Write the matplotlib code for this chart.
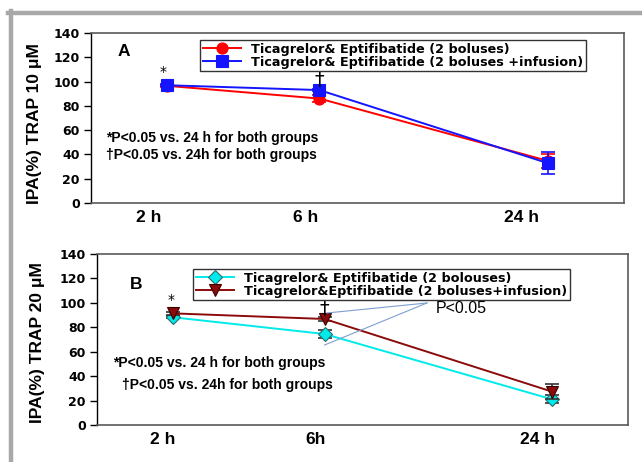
import matplotlib
matplotlib.use('Agg')
import matplotlib.pyplot as plt
from matplotlib.lines import Line2D

# Time points and their positions on the category axis
times = ['2 h', '6 h', '24 h']
times_b = ['2 h', '6h', '24 h']
x_pos = [1, 3, 6]

# Panel A: TRAP 10 uM
a_boluses = [96.5, 86.0, 34.7]
a_boluses_err = [1.0, 3.0, 6.0]
a_infusion = [97.0, 93.0, 32.8]
a_infusion_err = [1.0, 1.0, 9.0]

# Panel B: TRAP 20 uM
b_boluses = [88.2, 74.5, 21.0]
b_boluses_err = [1.0, 3.0, 3.3]
b_infusion = [91.4, 86.8, 27.3]
b_infusion_err = [1.0, 1.5, 6.3]

wide = 'DejaVu Sans'
arial = 'Liberation Sans'

fig = plt.figure(figsize=(6.42, 4.62), dpi=100)
W, H = 642, 462

def box(x0, y0, x1, y1):
    return [x0 / W, 1 - y1 / H, (x1 - x0) / W, (y1 - y0) / H]

axA = fig.add_axes(box(91, 33, 624, 203))
axB = fig.add_axes(box(97, 254, 628, 425))

# gray frame of the original figure
fig.add_artist(Line2D([8 / W, 1], [1 - 12.5 / H] * 2, color='#a8a8a8', lw=3.2, transform=fig.transFigure))
fig.add_artist(Line2D([11 / W] * 2, [0, 1 - 11 / H], color='#a8a8a8', lw=3.2, transform=fig.transFigure))


def style_axes(ax, ylabel, tick_labels, tick_pos, label_xy):
    ax.set_xlim(0, 7)
    ax.set_ylim(0, 140)
    ax.set_yticks(range(0, 141, 20))
    ax.set_xticks(tick_pos)
    ax.set_xticklabels(tick_labels, fontfamily=arial, fontweight='bold', fontsize=12.5)
    ax.tick_params(axis='x', length=0, pad=5)
    ax.tick_params(axis='y', direction='out', length=5, width=1, pad=3)
    for lab in ax.get_yticklabels():
        lab.set_fontfamily(wide)
        lab.set_fontweight('bold')
        lab.set_fontsize(9)
    for s in ['top', 'right', 'bottom']:
        ax.spines[s].set_color('#5a5a5a')
        ax.spines[s].set_linewidth(1.2)
    ax.spines['left'].set_color('black')
    ax.spines['left'].set_linewidth(1.0)
    ax.set_ylabel(ylabel, fontfamily=arial, fontweight='bold', fontsize=12.5)
    ax.yaxis.set_label_coords(*label_xy)


def series(ax, y, err, color, marker, ms, label, ecolor=None, mec=None):
    ax.errorbar(x_pos, y, yerr=err, fmt='none', ecolor=ecolor or color, capsize=5,
                elinewidth=1.2, capthick=1.2)
    ax.plot(x_pos, y, color=color, marker=marker, ms=ms, lw=1.4,
            mec=mec or color, mew=0.8, label=label)


def legend(ax, anchor):
    leg = ax.legend(loc='upper left', bbox_to_anchor=anchor, frameon=True, fancybox=False,
                    prop={'family': wide, 'weight': 'bold', 'size': 9.2}, handlelength=3.0,
                    handletextpad=0.8, borderpad=0.2, labelspacing=0.0, borderaxespad=0)
    leg.get_frame().set_edgecolor('black')
    leg.get_frame().set_linewidth(1.0)


note_font = dict(fontfamily=arial, fontweight='bold', fontsize=10, va='center')

# ---- Panel A ----
series(axA, a_boluses, a_boluses_err, '#ff0000', 'o', 8, 'Ticagrelor& Eptifibatide (2 boluses)')
series(axA, a_infusion, a_infusion_err, '#1414ff', 's', 8, 'Ticagrelor& Eptifibatide (2 boluses +infusion)')
style_axes(axA, 'IPA(%) TRAP 10 \u03bcM', times, [0.76, 2.82, 5.66], (-0.092, 0.465))
axA.text(0.35, 125, 'A', fontfamily=arial, fontweight='bold', fontsize=12.5, va='center')
axA.text(0.95, 108, '*', fontsize=10, ha='center', va='center')
axA.text(3.0, 93, '\u2020', fontsize=14, ha='center', va='bottom')
axA.text(0.2, 53.5, '*P<0.05 vs. 24 h for both groups', **note_font)
axA.text(0.2, 39.5, '\u2020P<0.05 vs. 24h for both groups', **note_font)
legend(axA, (0.2045, 0.959))

# ---- Panel B ----
series(axB, b_boluses, b_boluses_err, '#00eaea', 'D', 7, 'Ticagrelor& Eptifibatide (2 bolouses)',
       ecolor='#333333', mec='#2a6e6e')
series(axB, b_infusion, b_infusion_err, '#8b0a0a', 'v', 8, 'Ticagrelor&Eptifibatide (2 boluses+infusion)',
       ecolor='#333333', mec='#3a0000')
style_axes(axB, 'IPA(%) TRAP 20 \u03bcM', times_b, [0.87, 2.88, 5.81], (-0.098, 0.485))
axB.text(0.43, 115, 'B', fontfamily=arial, fontweight='bold', fontsize=12.5, va='center')
axB.text(0.97, 102, '*', fontsize=10, ha='center', va='center')
axB.text(3.0, 87, '\u2020', fontsize=14, ha='center', va='bottom')
axB.text(0.21, 50.8, '*P<0.05 vs. 24 h for both groups', **note_font)
axB.text(0.33, 32.7, '\u2020P<0.05 vs. 24h for both groups', **note_font)
legend(axB, (0.181, 0.912))

# P<0.05 callout lines
axB.plot([4.35, 3.03], [99.9, 91.7], color='#7f9fd0', lw=0.8)
axB.plot([4.35, 3.0], [99.9, 65.5], color='#7f9fd0', lw=0.8)
axB.text(4.46, 95, 'P<0.05', fontfamily=arial, fontsize=11.5, va='center')

fig.savefig('out.png', dpi=100)
